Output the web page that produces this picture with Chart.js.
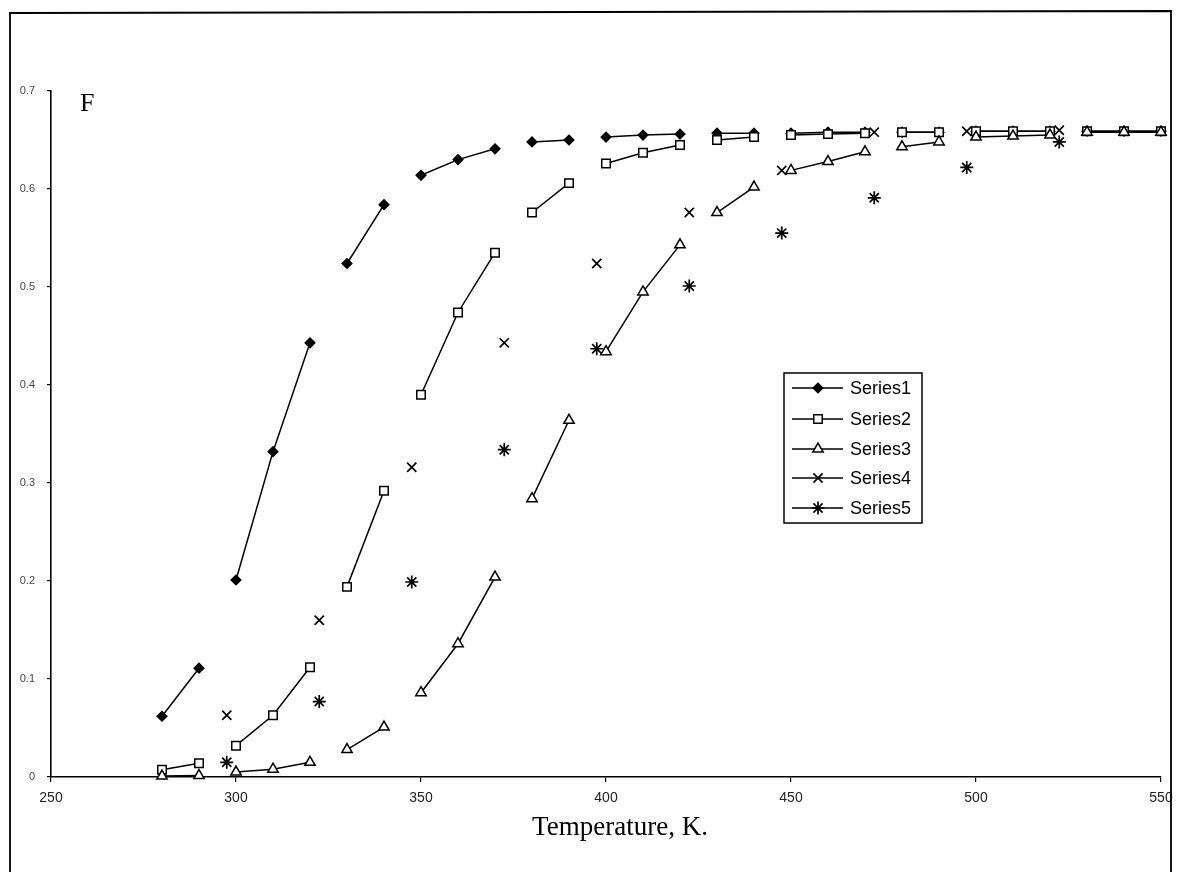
<!DOCTYPE html>
<html>
<head>
<meta charset="utf-8">
<script src="https://cdn.jsdelivr.net/npm/chart.js@4/dist/chart.umd.min.js"></script>
<style>
  html, body { margin: 0; padding: 0; background: #fff; }
  #wrap { width: 1177px; height: 872px; position: relative; }
</style>
</head>
<body>
<div id="wrap"><canvas id="c" width="1177" height="872"></canvas></div>
<script>
// ---- data ----
const temps = [280,290,300,310,320,330,340,350,360,370,380,390,400,410,420,430,440,450,460,470,480,490,500,510,520,530,540,550];
const series1 = [0.062,0.111,0.201,0.332,0.443,0.524,0.584,0.614,0.630,0.641,0.648,0.650,0.653,0.655,0.656,0.657,0.657,0.657,0.658,0.658,0.658,0.658,0.659,0.659,0.659,0.659,0.659,0.659];
const series2 = [0.0075,0.014,0.032,0.063,0.112,0.194,0.292,0.390,0.474,0.535,0.576,0.606,0.626,0.637,0.645,0.650,0.653,0.655,0.656,0.657,0.658,0.658,0.659,0.659,0.659,0.659,0.659,0.659];
const series3 = [0.001,0.0015,0.005,0.008,0.015,0.028,0.051,0.086,0.136,0.204,0.284,0.364,0.434,0.495,0.543,0.576,0.602,0.619,0.628,0.638,0.643,0.648,0.653,0.654,0.655,0.658,0.658,0.658];
const tempsOffset = [297.5,322.5,347.5,372.5,397.5,422.5,447.5,472.5,497.5,522.5];
const series4 = [0.063,0.160,0.316,0.443,0.524,0.576,0.619,0.658,0.659,0.660];
const series5 = [0.015,0.077,0.199,0.334,0.437,0.501,0.555,0.591,0.622,0.648];
const seriesNames = ['Series1','Series2','Series3','Series4','Series5'];
const xTicks = [250,300,350,400,450,500,550];
const yTicks = [0,0.1,0.2,0.3,0.4,0.5,0.6,0.7];
const xTitle = 'Temperature, K.';
const yTitle = 'F';
// temperatures after which the connecting line is broken in the original
const breakAfter = new Set([290,320,340,370,390,420,440,470,490,520]);

// ---- styles ----
const INK = '#000';
const markerStyles = [
  { pointStyle: 'rectRot', radius: 5, bg: '#000', bw: 1.2 },
  { pointStyle: 'rect', radius: 6, bg: '#fff', bw: 1.5 },
  { pointStyle: 'triangle', radius: 6, bg: '#fff', bw: 1.5 },
  { pointStyle: 'crossRot', radius: 6.5, bg: '#fff', bw: 1.7 },
  { pointStyle: 'star', radius: 6.5, bg: '#fff', bw: 1.7 }
];

function pts(xs, ys) { return xs.map((x, i) => ({ x: x, y: ys[i] })); }

function lineDs(label, xs, ys, m, showLine, order) {
  return {
    label: label,
    data: pts(xs, ys),
    order: order,
    showLine: showLine,
    borderColor: INK,
    borderWidth: 1.5,
    pointStyle: m.pointStyle,
    pointRadius: m.radius,
    pointBackgroundColor: m.bg,
    pointBorderColor: INK,
    pointBorderWidth: m.bw,
    pointHoverRadius: m.radius,
    fill: false,
    tension: 0,
    clip: false,
    segment: showLine ? {
      borderColor: ctx => breakAfter.has(xs[ctx.p0DataIndex]) ? 'rgba(0,0,0,0)' : INK
    } : undefined
  };
}

const datasets = [
  lineDs(seriesNames[0], temps, series1, markerStyles[0], true, 5),
  lineDs(seriesNames[1], temps, series2, markerStyles[1], true, 4),
  lineDs(seriesNames[2], temps, series3, markerStyles[2], true, 3),
  lineDs(seriesNames[3], tempsOffset, series4, markerStyles[3], false, 2),
  lineDs(seriesNames[4], tempsOffset, series5, markerStyles[4], false, 1)
];

const decorPlugin = {
  id: 'decor',
  afterDraw(chart) {
    const ctx = chart.ctx;
    const ca = chart.chartArea;
    ctx.save();
    // outer frame (scan page border)
    ctx.strokeStyle = INK;
    ctx.lineWidth = 1.8;
    ctx.beginPath();
    ctx.moveTo(10, 872);
    ctx.lineTo(10, 13);
    ctx.lineTo(1171, 11);
    ctx.lineTo(1171, 872);
    ctx.stroke();

    // y title "F"
    ctx.fillStyle = INK;
    ctx.font = '26px "Liberation Serif", "Times New Roman", serif';
    ctx.textAlign = 'left';
    ctx.textBaseline = 'middle';
    ctx.fillText(yTitle, ca.left + 29, ca.top + 13);

    // x title
    ctx.font = '27px "Liberation Serif", "Times New Roman", serif';
    ctx.textAlign = 'center';
    ctx.fillText(xTitle, 620, 828);

    // legend
    const lx = 784, ly = 373, lw = 138, lh = 150;
    ctx.lineWidth = 1.5;
    ctx.strokeRect(lx, ly, lw, lh);
    const rows = [388, 419, 449, 478, 508];
    ctx.font = '18px "Liberation Sans", Arial, sans-serif';
    ctx.textAlign = 'left';
    rows.forEach((y, i) => {
      ctx.strokeStyle = INK;
      ctx.lineWidth = 1.4;
      ctx.beginPath();
      ctx.moveTo(792, y);
      ctx.lineTo(843, y);
      ctx.stroke();
      const m = markerStyles[i];
      ctx.fillStyle = m.bg;
      ctx.strokeStyle = INK;
      ctx.lineWidth = m.bw;
      Chart.helpers.drawPoint(ctx, { pointStyle: m.pointStyle, radius: m.radius, borderWidth: m.bw, rotation: 0 }, 818, y);
      ctx.fillStyle = INK;
      ctx.fillText(seriesNames[i], 850, y + 1);
    });
    ctx.restore();
  }
};

new Chart(document.getElementById('c'), {
  type: 'scatter',
  data: { datasets: datasets },
  plugins: [decorPlugin],
  options: {
    responsive: false,
    animation: false,
    devicePixelRatio: 1,
    layout: { padding: { top: 91, right: 16, left: 0, bottom: 0 } },
    plugins: { legend: { display: false }, tooltip: { enabled: false } },
    scales: {
      x: {
        type: 'linear',
        min: 250, max: 550,
        afterFit: s => { s.height = 95; s.paddingRight = 0; s.paddingLeft = 0; },
        afterBuildTicks: s => { s.ticks = xTicks.map(v => ({ value: v })); },
        border: { display: true, color: INK, width: 1.6 },
        grid: { drawOnChartArea: false, drawTicks: true, tickLength: 5, color: INK, lineWidth: 1.2 },
        ticks: { color: '#222', padding: 8, font: { family: '"Liberation Sans", Arial, sans-serif', size: 14 }, maxRotation: 0 }
      },
      y: {
        type: 'linear',
        min: 0, max: 0.7,
        afterFit: s => { s.width = 51; s.paddingTop = 0; s.paddingBottom = 0; },
        afterBuildTicks: s => { s.ticks = yTicks.map(v => ({ value: v })); },
        border: { display: true, color: INK, width: 1.6 },
        grid: { drawOnChartArea: false, drawTicks: true, tickLength: 4, color: INK, lineWidth: 1.2 },
        ticks: { color: '#444', padding: 12, font: { family: '"Liberation Sans", Arial, sans-serif', size: 11 },
                 callback: v => (v === 0 ? '0' : v.toFixed(1)) }
      }
    }
  }
});
</script>
</body>
</html>
